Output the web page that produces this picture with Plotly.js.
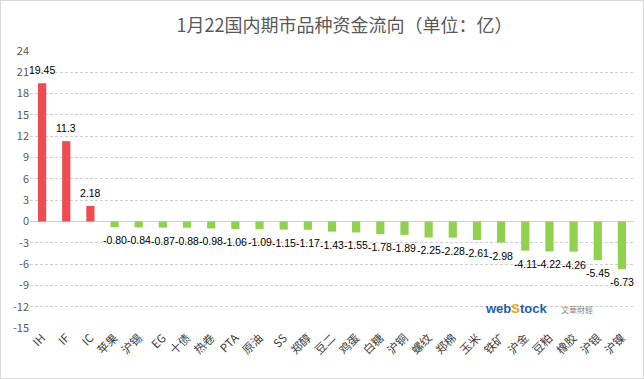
<!DOCTYPE html>
<html><head><meta charset="utf-8">
<script src="https://cdn.plot.ly/plotly-3.0.1.min.js"></script>
<style>
html,body{margin:0;padding:0;background:#fff;}
#chart{width:642px;height:377px;border:1px solid #d9d9d9;}
</style></head>
<body><div id="chart"></div>
<script>
const categories = ["IH","IF","IC","苹果","沪锡","EG","十债","热卷","PTA","原油","SS","郑醇","豆二","鸡蛋","白糖","沪铜","螺纹","郑棉","玉米","铁矿","沪金","豆粕","橡胶","沪银","沪镍"];
const values = [19.45,11.3,2.18,-0.80,-0.84,-0.87,-0.88,-0.98,-1.06,-1.09,-1.15,-1.17,-1.43,-1.55,-1.78,-1.89,-2.25,-2.28,-2.61,-2.98,-4.11,-4.22,-4.26,-5.45,-6.73];
const labels = ["19.45","11.3","2.18","-0.80","-0.84","-0.87","-0.88","-0.98","-1.06","-1.09","-1.15","-1.17","-1.43","-1.55","-1.78","-1.89","-2.25","-2.28","-2.61","-2.98","-4.11","-4.22","-4.26","-5.45","-6.73"];
const yTicks = [24,21,18,15,12,9,6,3,0,-3,-6,-9,-12,-15];

const colors = values.map(v => v >= 0 ? "#ee4c50" : "#92d050");
const font = "'Noto Sans CJK SC', 'Noto Sans', sans-serif";

const valueAnnotations = categories.map((c, i) => ({
  x: c, y: values[i], text: labels[i], showarrow: false,
  xref: "x", yref: "y",
  yanchor: values[i] >= 0 ? "bottom" : "top",
  yshift: values[i] >= 0 ? 5 : -5,
  font: {family: "'Liberation Sans', Arial, sans-serif", size: 10.5, color: "#000"}
}));

Plotly.newPlot("chart", [{
  type: "bar",
  x: categories,
  y: values,
  marker: {color: colors},
  width: 0.34,
  hoverinfo: "skip"
}], {
  width: 642, height: 377,
  margin: {l: 29, r: 9, t: 50, b: 50},
  paper_bgcolor: "#fff", plot_bgcolor: "#fff",
  showlegend: false,
  title: {text: "1月22国内期市品种资金流向（单位：亿）", font: {family: font, size: 18, color: "#595959"},
          x: 0.535, xref: "container", xanchor: "center", y: 0.935, yref: "container", yanchor: "middle"},
  xaxis: {
    type: "category", range: [-0.5, categories.length - 0.5], tickangle: -45,
    showgrid: false, zeroline: false, showline: false,
    ticks: "", tickfont: {family: font, size: 11.5, color: "#404040"}
  },
  yaxis: {
    range: [-15, 24], tickvals: yTicks, ticktext: yTicks.map(String),
    showgrid: true, gridcolor: "#d0d0d0", griddash: "3px,2px", gridwidth: 1,
    zeroline: true, zerolinecolor: "#d0d0d0", zerolinewidth: 1,
    showline: false, ticks: "", tickfont: {family: font, size: 11, color: "#595959"}
  },
  annotations: valueAnnotations.concat([
    {text: "<b><span style='color:#1f5fa8'>web</span><span style='color:#e8a020'>S</span><span style='color:#1f5fa8'>tock</span></b>",
     xref: "paper", yref: "paper", x: 0.86, y: 0.07, xanchor: "right", yanchor: "middle", showarrow: false,
     font: {family: "Arial", size: 13}},
    {text: "文華財經", xref: "paper", yref: "paper", x: 0.875, y: 0.065, xanchor: "left", yanchor: "middle",
     showarrow: false, font: {family: font, size: 8, color: "#888"}}
  ])
}, {displayModeBar: false, staticPlot: true});
</script></body></html>
